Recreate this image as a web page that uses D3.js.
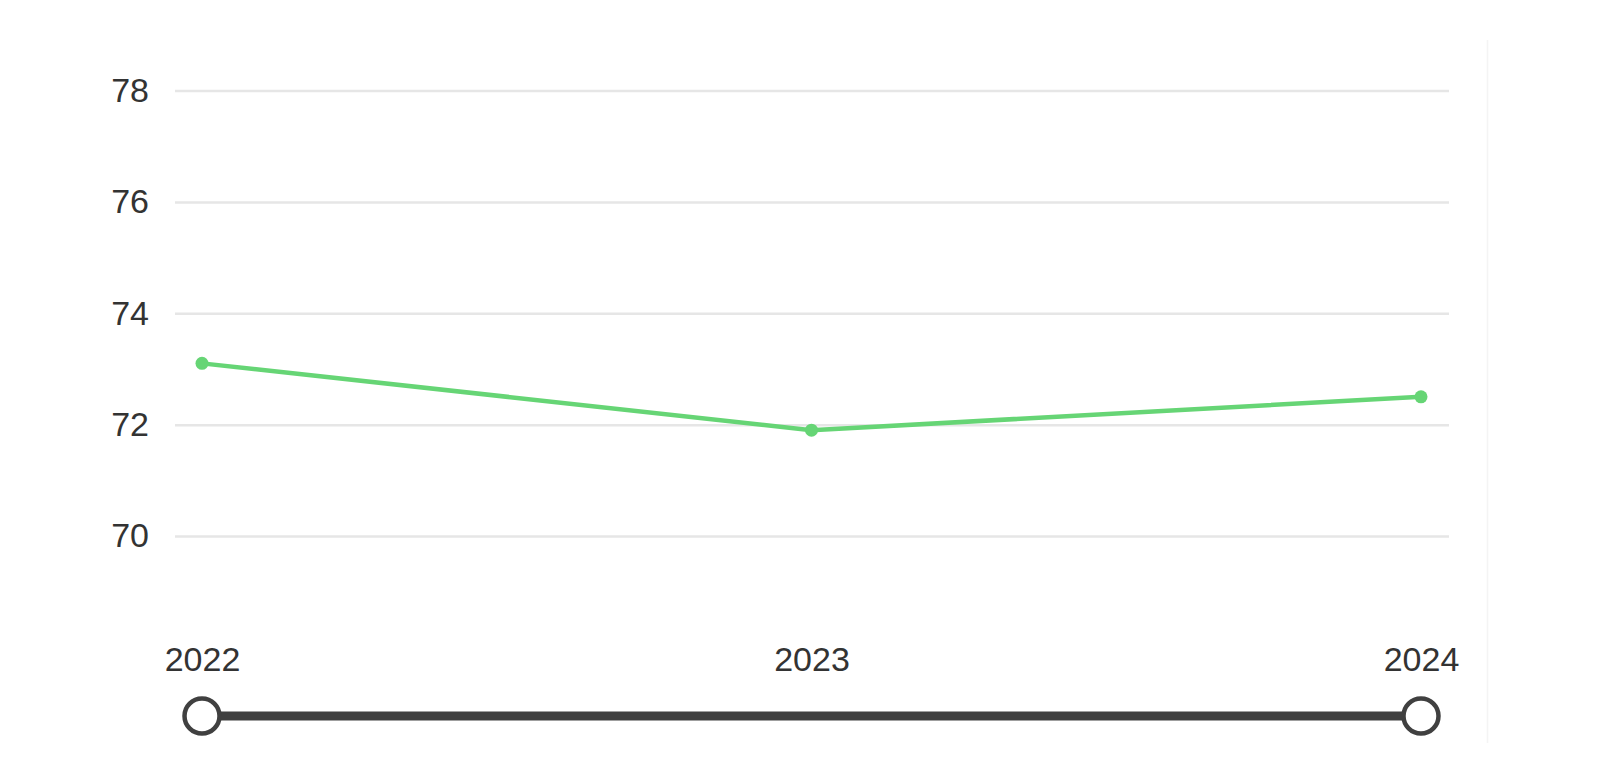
<!DOCTYPE html>
<html>
<head>
<meta charset="utf-8">
<script src="https://cdn.jsdelivr.net/npm/d3@7"></script>
<style>
  html, body { margin: 0; padding: 0; background: #ffffff; }
  svg { display: block; }
  text { font-family: "Liberation Sans", Arial, sans-serif; }
</style>
</head>
<body>
<svg id="chart" width="1614" height="764"></svg>
<script>
const years = ["2022", "2023", "2024"];
const values = [73.1, 71.9, 72.5];
const yTicks = [70, 72, 74, 76, 78];

const svg = d3.select("#chart");

const x = d3.scalePoint().domain(years).range([202, 1421]);
const y = d3.scaleLinear().domain([70, 78]).range([536, 90.5]);

// faint right border
svg.append("line")
  .attr("x1", 1487.5).attr("x2", 1487.5)
  .attr("y1", 40).attr("y2", 743)
  .attr("stroke", "#f4f4f4").attr("stroke-width", 1.5);

// gridlines + y labels via axis
const yAxis = d3.axisLeft(y).tickValues(yTicks).tickSize(-(1449 - 175)).tickPadding(26).tickFormat(d3.format("d"));
const gy = svg.append("g").attr("transform", "translate(175,0)").call(yAxis);
gy.select(".domain").remove();
gy.selectAll(".tick line").attr("stroke", "#e6e6e6").attr("stroke-width", 2.5);
gy.selectAll(".tick text")
  .attr("fill", "#333333").attr("font-size", 34)
  .attr("font-family", "'Liberation Sans', Arial, sans-serif");

// line
const line = d3.line().x((d, i) => x(years[i])).y(d => y(d));
svg.append("path")
  .datum(values)
  .attr("d", line)
  .attr("fill", "none")
  .attr("stroke", "#66d575")
  .attr("stroke-width", 4.5);

svg.selectAll("circle.pt")
  .data(values)
  .enter().append("circle")
  .attr("class", "pt")
  .attr("cx", (d, i) => x(years[i]))
  .attr("cy", d => y(d))
  .attr("r", 6.5)
  .attr("fill", "#66d575");

// x labels (timeline)
const xAxis = d3.axisBottom(x).tickSize(0).tickPadding(0);
const gx = svg.append("g").attr("transform", "translate(0,647)").call(xAxis);
gx.select(".domain").remove();
gx.selectAll(".tick text")
  .attr("fill", "#333333").attr("font-size", 34)
  .attr("font-family", "'Liberation Sans', Arial, sans-serif")
  .attr("dy", "0.71em");

// slider
svg.append("line")
  .attr("x1", x(years[0])).attr("x2", x(years[years.length - 1]))
  .attr("y1", 716).attr("y2", 716)
  .attr("stroke", "#404040").attr("stroke-width", 9);

svg.selectAll("circle.handle")
  .data([years[0], years[years.length - 1]])
  .enter().append("circle")
  .attr("class", "handle")
  .attr("cx", d => x(d))
  .attr("cy", 716)
  .attr("r", 17.5)
  .attr("fill", "#ffffff")
  .attr("stroke", "#404040")
  .attr("stroke-width", 4.5);
</script>
</body>
</html>
